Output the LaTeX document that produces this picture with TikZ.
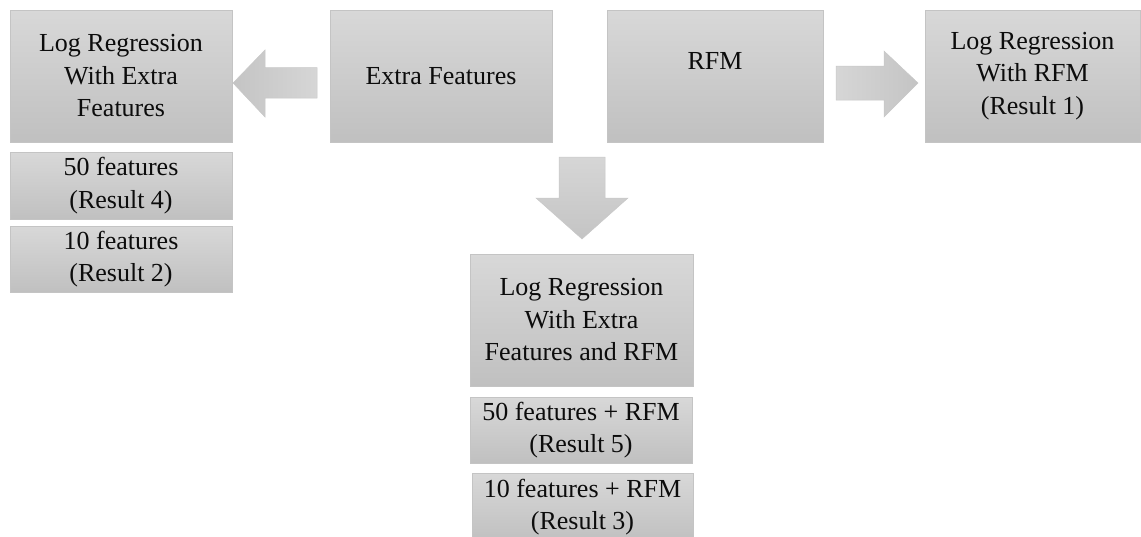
\documentclass[tikz,border=0pt]{standalone}
\usepackage{fontspec}
\setmainfont{LiberationSerif}[Extension=.ttf, UprightFont=*-Regular, BoldFont=*-Bold]
\begin{document}
\begin{tikzpicture}[x=1pt,y=-1pt,
  box/.style={draw=boxline, line width=0.8pt, top color=boxtop, bottom color=boxbot,
    rectangle, inner sep=0pt, align=center, text=textdark,
    font=\fontsize{26}{32.5}\selectfont},
  label/.style={inner sep=0pt, align=center, text=textdark,
    font=\fontsize{26}{32.5}\selectfont},
  blockarrow/.style={draw=arrowline, line width=0.5pt}
]
\definecolor{boxtop}{RGB}{216,216,216}
\definecolor{boxbot}{RGB}{192,192,192}
\definecolor{boxline}{RGB}{196,196,196}
\definecolor{arrowlight}{RGB}{214,214,214}
\definecolor{arrowdark}{RGB}{196,196,196}
\definecolor{arrowline}{RGB}{200,200,200}
\definecolor{textdark}{RGB}{12,12,12}

\useasboundingbox (0,0) rectangle (1141,536);
\clip (0,0) rectangle (1141,536);

% top row
\node[box, minimum width=222, minimum height=132] (lrextra) at (121,76)
  {Log Regression\\With Extra\\Features};
\node[box, minimum width=222, minimum height=132] (extra) at (441,76) {Extra Features};
\node[box, minimum width=216, minimum height=132] (rfm) at (715,76) {};
\node[label, anchor=north] (rfmtext) at ([yshift=-43]rfm.north) {RFM};
\node[box, minimum width=215, minimum height=132] (lrrfm) at (1032.5,76)
  {Log Regression\\With RFM\\(Result 1)};

% left column results
\node[box, minimum width=222, minimum height=67] (f50) at (121,185.5)
  {50 features\\(Result 4)};
\node[box, minimum width=222, minimum height=66] (f10) at (121,259)
  {10 features\\(Result 2)};

% combined model and its results
\node[box, minimum width=223, minimum height=132] (lrboth) at (581.5,320)
  {Log Regression\\With Extra\\Features and RFM};
\node[box, minimum width=222, minimum height=66] (f50r) at (581,430)
  {50 features + RFM\\(Result 5)};
\node[box, minimum width=221, minimum height=68] (f10r) at (582.5,507)
  {10 features + RFM\\(Result 3)};

% block arrow: extra features -> left model
\path[blockarrow, left color=arrowdark, right color=arrowlight]
  (317,67.5) -- (265,67.5) -- (265,50) -- (233,83) -- (265,117) -- (265,98) -- (317,98) -- cycle;

% block arrow: RFM -> right model
\path[blockarrow, left color=arrowlight, right color=arrowdark]
  (836,66) -- (884,66) -- (884,51) -- (918,83) -- (884,117) -- (884,100) -- (836,100) -- cycle;

% block arrow: down to the combined model
\path[blockarrow, top color=arrowlight, bottom color=arrowdark]
  (559,157) -- (605,157) -- (605,198) -- (628,198) -- (582,239) -- (536,198) -- (559,198) -- cycle;
\end{tikzpicture}
\end{document}
